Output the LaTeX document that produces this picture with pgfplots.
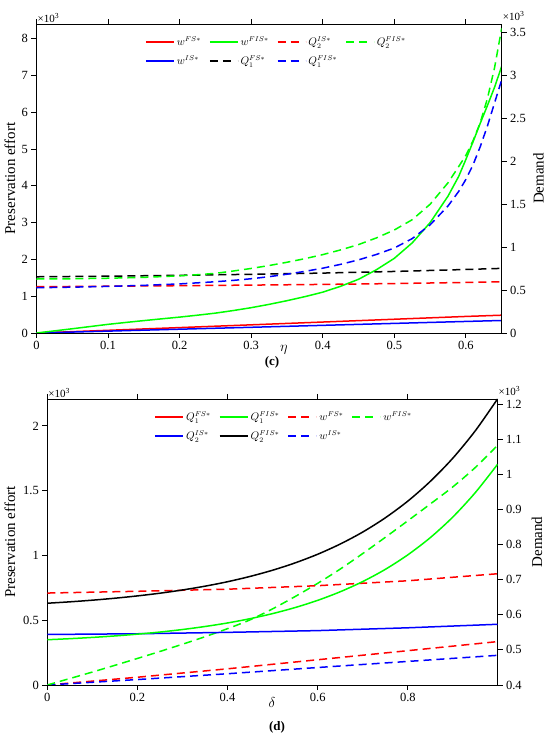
\documentclass[border=0pt]{standalone}
\usepackage{fontspec}
\setmainfont{Liberation Serif}
\usepackage{pgfplots}
\pgfplotsset{compat=1.18}

\definecolor{cr}{RGB}{255,0,0}
\definecolor{cg}{RGB}{0,255,0}
\definecolor{cb}{RGB}{0,0,255}

\tikzset{
  ln/.style={line width=1.5pt},
  dsh/.style={line width=1.5pt, dash pattern=on 8pt off 5pt},
}

\pgfplotsset{
  myax/.style={
    scale only axis,
    tick align=outside,
    major tick length=5pt,
    axis line style={line width=0.9pt},
    every tick/.style={black, line width=0.9pt},
    /pgf/number format/assume math mode=true,
    tick label style={font=\fontsize{12.5}{14}\selectfont},
    label style={font=\fontsize{15}{17}\selectfont},
  },
  myleg/.style={
    legend columns=4,
    legend cell align=left,
    legend image code/.code={\draw[##1] (0pt,0pt) -- (28pt,0pt);},
    legend style={draw=none, fill=none, font=\fontsize{10.5}{12}\selectfont,
      anchor=north west, inner sep=0pt, row sep=5pt,
      /tikz/every even column/.append style={column sep=6pt}},
  },
}

\begin{document}
\begin{tikzpicture}
\path[use as bounding box] (0pt,0pt) rectangle (550pt,737pt);

% ================= panel (c) =================
\begin{axis}[myax, name=c1,
  at={(36.4pt,404pt)}, anchor=south west,
  width=465.3pt, height=309pt,
  xmin=0, xmax=0.65, ymin=0, ymax=8.4,
  xtick={0,0.1,0.2,0.3,0.4,0.5,0.6},
  ytick={0,1,2,3,4,5,6,7,8},
  xtick pos=both, xticklabel pos=bottom, ytick pos=left,
  ylabel={Preservation effort},
  ylabel style={at={(axis description cs:-0.0567,0.5)}, anchor=center},
  xlabel={$\eta$},
  xlabel style={at={(axis description cs:0.532,0)}, anchor=center, yshift=-17pt},
]
% w^{FS*}
\addplot[cr, ln] coordinates {(0,0) (0.1,0.073) (0.2,0.147) (0.3,0.222) (0.4,0.298) (0.5,0.374) (0.6,0.45) (0.65,0.484)};
% w^{IS*}
\addplot[cb, ln] coordinates {(0,0) (0.1,0.051) (0.2,0.103) (0.3,0.155) (0.4,0.208) (0.5,0.261) (0.6,0.314) (0.65,0.34)};
% w^{FIS*}
\addplot[cg, ln] coordinates {(0,0) (0.025,0.057) (0.05,0.115) (0.075,0.175) (0.1,0.235) (0.125,0.287) (0.15,0.337) (0.175,0.385) (0.2,0.432) (0.225,0.484) (0.25,0.54) (0.275,0.61) (0.3,0.688) (0.325,0.778) (0.35,0.878) (0.375,0.988) (0.4,1.11) (0.425,1.27) (0.45,1.46) (0.475,1.72) (0.5,2.03) (0.525,2.45) (0.55,3.0) (0.575,3.72) (0.59,4.26) (0.6,4.72) (0.61,5.2) (0.62,5.7) (0.63,6.18) (0.64,6.68) (0.65,7.25)};
\end{axis}

\begin{axis}[myax, myleg, name=c2,
  at={(36.4pt,404pt)}, anchor=south west,
  width=465.3pt, height=309pt,
  xmin=0, xmax=0.65, ymin=0, ymax=3.6,
  axis x line=none, axis y line*=right,
  ytick={0,0.5,1,1.5,2,2.5,3,3.5},
  ylabel={Demand},
  ylabel style={at={(axis description cs:1.0793,0.5)}, anchor=center},
  legend style={at={(axis description cs:0.2334,0.966)}},
]
\addlegendimage{color=cr, line width=1.6pt}\addlegendentry{$w^{FS*}$}
\addlegendimage{color=cg, line width=1.6pt}\addlegendentry{$w^{FIS*}$}
\addlegendimage{color=cr, line width=1.6pt, dash pattern=on 8pt off 5pt on 8pt off 7pt}\addlegendentry{$Q_2^{IS*}$}
\addlegendimage{color=cg, line width=1.6pt, dash pattern=on 8pt off 5pt on 8pt off 7pt}\addlegendentry{$Q_2^{FIS*}$}
\addlegendimage{color=cb, line width=1.6pt}\addlegendentry{$w^{IS*}$}
\addlegendimage{color=black, line width=1.6pt, dash pattern=on 8pt off 5pt on 8pt off 7pt}\addlegendentry{$Q_1^{FS*}$}
\addlegendimage{color=cb, line width=1.6pt, dash pattern=on 8pt off 5pt on 8pt off 7pt}\addlegendentry{$Q_1^{FIS*}$}
% Q_1^{FS*}
\addplot[black, dsh, forget plot] coordinates {(0,0.655) (0.1,0.662) (0.2,0.672) (0.3,0.684) (0.4,0.698) (0.5,0.717) (0.6,0.74) (0.65,0.753)};
% Q_2^{IS*}
\addplot[cr, dsh, forget plot] coordinates {(0,0.539) (0.1,0.545) (0.2,0.551) (0.3,0.558) (0.4,0.566) (0.5,0.576) (0.6,0.589) (0.65,0.597)};
% Q_1^{FIS*}
\addplot[cb, dsh, forget plot] coordinates {(0,0.527) (0.05,0.534) (0.1,0.543) (0.15,0.555) (0.2,0.572) (0.25,0.597) (0.275,0.613) (0.3,0.632) (0.325,0.656) (0.35,0.685) (0.375,0.718) (0.4,0.755) (0.425,0.8) (0.45,0.852) (0.475,0.915) (0.5,0.99) (0.525,1.1) (0.55,1.26) (0.575,1.48) (0.59,1.65) (0.6,1.79) (0.61,1.96) (0.62,2.17) (0.63,2.41) (0.64,2.68) (0.65,2.95)};
% Q_2^{FIS*}
\addplot[cg, dsh, forget plot] coordinates {(0,0.629) (0.05,0.632) (0.1,0.638) (0.15,0.648) (0.2,0.666) (0.225,0.679) (0.25,0.695) (0.275,0.722) (0.3,0.752) (0.325,0.786) (0.35,0.824) (0.375,0.866) (0.4,0.913) (0.425,0.968) (0.45,1.03) (0.475,1.108) (0.5,1.2) (0.525,1.32) (0.55,1.5) (0.575,1.75) (0.59,1.94) (0.6,2.07) (0.61,2.24) (0.62,2.45) (0.63,2.73) (0.64,3.09) (0.65,3.55)};
\end{axis}

\node[anchor=south west, inner sep=1pt, font=\fontsize{11}{12}\selectfont] at (c1.north west) {×10\textsuperscript{3}};
\node[anchor=south west, inner sep=1pt, font=\fontsize{11}{12}\selectfont] at ([yshift=2pt]c1.north east) {×10\textsuperscript{3}};
\node[font=\bfseries\fontsize{13}{15}\selectfont] at (272pt,375pt) {(c)};

% ================= panel (d) =================
\begin{axis}[myax, name=d1,
  at={(47.3pt,52pt)}, anchor=south west,
  width=450.2pt, height=286pt,
  xmin=0, xmax=0.999, ymin=0, ymax=2.208,
  xtick={0,0.2,0.4,0.6,0.8},
  ytick={0,0.5,1,1.5,2},
  xtick pos=both, xticklabel pos=bottom, ytick pos=left,
  ylabel={Preservation effort},
  ylabel style={at={(axis description cs:-0.0829,0.5)}, anchor=center},
  xlabel={$\delta$},
  xlabel style={at={(axis description cs:0.499,0)}, anchor=center, yshift=-18pt},
]
% w^{FS*}
\addplot[cr, dsh] coordinates {(0,0) (0.2,0.06) (0.4,0.125) (0.6,0.195) (0.8,0.265) (0.999,0.335)};
% w^{IS*}
\addplot[cb, dsh] coordinates {(0,0) (0.2,0.042) (0.4,0.087) (0.6,0.135) (0.8,0.182) (0.999,0.229)};
% w^{FIS*}
\addplot[cg, dsh, smooth] coordinates {(0,0) (0.05,0.05) (0.1,0.1) (0.15,0.152) (0.2,0.205) (0.25,0.259) (0.3,0.315) (0.35,0.373) (0.4,0.435) (0.45,0.503) (0.5,0.588) (0.55,0.683) (0.6,0.785) (0.65,0.895) (0.7,1.015) (0.75,1.14) (0.8,1.268) (0.85,1.398) (0.9,1.53) (0.95,1.68) (0.999,1.85)};
\end{axis}

\begin{axis}[myax, myleg, name=d2,
  at={(47.3pt,52pt)}, anchor=south west,
  width=450.2pt, height=286pt,
  xmin=0, xmax=0.999, ymin=0.4, ymax=1.215,
  axis x line=none, axis y line*=right,
  ytick={0.4,0.5,0.6,0.7,0.8,0.9,1,1.1,1.2},
  ylabel={Demand},
  ylabel style={at={(axis description cs:1.0877,0.5)}, anchor=center},
  legend style={at={(axis description cs:0.237,0.963)}},
]
\addlegendimage{color=cr, line width=1.9pt}\addlegendentry{$Q_1^{FS*}$}
\addlegendimage{color=cg, line width=1.9pt}\addlegendentry{$Q_1^{FIS*}$}
\addlegendimage{color=cr, line width=1.9pt, dash pattern=on 8pt off 5pt on 8pt off 7pt}\addlegendentry{$w^{FS*}$}
\addlegendimage{color=cg, line width=1.9pt, dash pattern=on 8pt off 5pt on 8pt off 7pt}\addlegendentry{$w^{FIS*}$}
\addlegendimage{color=cb, line width=1.9pt}\addlegendentry{$Q_2^{IS*}$}
\addlegendimage{color=black, line width=1.9pt}\addlegendentry{$Q_2^{FIS*}$}
\addlegendimage{color=cb, line width=1.9pt, dash pattern=on 8pt off 5pt on 8pt off 7pt}\addlegendentry{$w^{IS*}$}
% upper red dashed
\addplot[cr, dsh, forget plot] coordinates {(0,0.662) (0.2,0.667) (0.4,0.673) (0.6,0.683) (0.8,0.697) (0.999,0.717)};
% Q_2^{IS*}
\addplot[cb, ln, forget plot] coordinates {(0,0.544) (0.2,0.546) (0.4,0.55) (0.6,0.555) (0.8,0.563) (0.999,0.573)};
% Q_1^{FIS*}
\addplot[cg, ln, smooth, forget plot] coordinates {(0,0.529) (0.05,0.532) (0.1,0.5356) (0.15,0.5398) (0.2,0.5449) (0.25,0.5509) (0.3,0.5581) (0.35,0.5667) (0.4,0.5768) (0.45,0.589) (0.5,0.6035) (0.55,0.6207) (0.6,0.6412) (0.65,0.6657) (0.7,0.6948) (0.75,0.7295) (0.8,0.7709) (0.85,0.8201) (0.9,0.8788) (0.95,0.9487) (0.999,1.0286)};
% Q_2^{FIS*}
\addplot[black, ln, smooth, forget plot] coordinates {(0,0.633) (0.05,0.637) (0.1,0.6417) (0.15,0.6473) (0.2,0.6539) (0.25,0.6616) (0.3,0.6708) (0.35,0.6816) (0.4,0.6943) (0.45,0.7094) (0.5,0.7271) (0.55,0.748) (0.6,0.7726) (0.65,0.8017) (0.7,0.8359) (0.75,0.8764) (0.8,0.924) (0.85,0.9804) (0.9,1.0466) (0.95,1.1249) (0.999,1.215)};
\end{axis}

\node[anchor=south west, inner sep=1pt, font=\fontsize{11}{12}\selectfont] at (d1.north west) {×10\textsuperscript{3}};
\node[anchor=south west, inner sep=1pt, font=\fontsize{11}{12}\selectfont] at ([yshift=2pt]d1.north east) {×10\textsuperscript{3}};
\node[font=\bfseries\fontsize{13}{15}\selectfont] at (277pt,10pt) {(d)};
\end{tikzpicture}
\end{document}
